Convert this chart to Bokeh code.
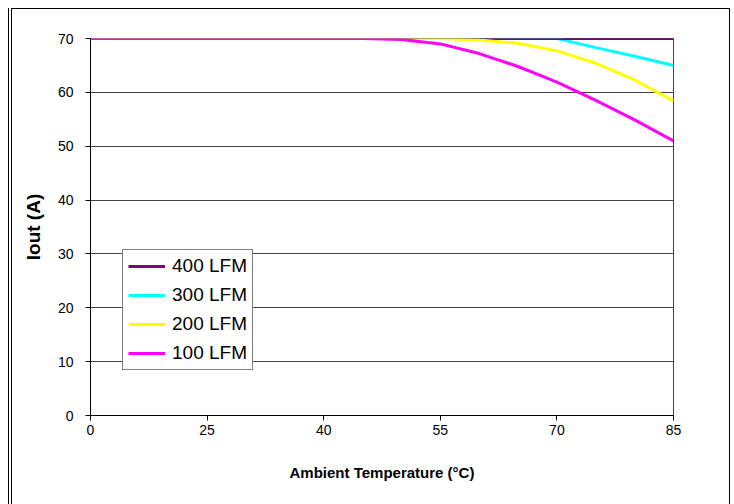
import numpy as np
from bokeh.plotting import figure
from bokeh.models import Range1d, FixedTicker, Legend, LegendItem
from bokeh.embed import file_html
from bokeh.resources import INLINE

# ---- data ----
cat_labels = ["0", "25", "40", "55", "70", "85"]
cat_temps = [0, 25, 40, 55, 70, 85]

temps_400 = [0, 25, 40, 55, 70, 85]
iout_400 = [70, 70, 70, 70, 70, 70]

temps_300 = [0, 25, 40, 55, 70, 75, 80, 85]
iout_300 = [70, 70, 70, 70, 70, 68.3, 66.7, 65.0]

temps_200 = [0, 25, 40, 55, 60, 65, 70, 75, 80, 85]
iout_200 = [70, 70, 70, 70, 69.7, 69.1, 67.7, 65.4, 62.3, 58.4]

temps_100 = [0, 25, 40, 45, 50, 55, 60, 65, 70, 75, 80, 85]
iout_100 = [70, 70, 70, 70, 69.8, 69.0, 67.2, 64.8, 61.9, 58.5, 54.9, 51.0]

series = [
    ("400 LFM", temps_400, iout_400, "#800080"),
    ("300 LFM", temps_300, iout_300, "#00FFFF"),
    ("200 LFM", temps_200, iout_200, "#FFFF00"),
    ("100 LFM", temps_100, iout_100, "#FF00FF"),
]
y_ticks = [0, 10, 20, 30, 40, 50, 60, 70]

FONT = "Liberation Sans"


def to_pos(t):
    # category axis: each labelled temperature is one equally spaced slot
    return np.interp(t, cat_temps, np.arange(len(cat_temps)))


p = figure(width=717, height=495, output_backend="svg", toolbar_location=None,
           x_range=Range1d(0, len(cat_temps) - 1), y_range=Range1d(0, 70),
           min_border_left=78, min_border_top=29, min_border_right=56,
           min_border_bottom=89,
           styles={"margin-left": "12px", "margin-top": "9px",
                   "box-shadow": "0 0 0 1px black, -2px 0 0 1px white, "
                                 "-3px 0 0 1px black"})
p.background_fill_color = "white"
p.border_fill_color = "white"
p.outline_line_color = "#444444"
p.outline_line_width = 1

# axes
p.xaxis.ticker = FixedTicker(ticks=list(range(len(cat_temps))))
p.xaxis.major_label_overrides = {i: lab for i, lab in enumerate(cat_labels)}
p.yaxis.ticker = FixedTicker(ticks=y_ticks)
for ax in (p.xaxis[0], p.yaxis[0]):
    ax.axis_line_color = "black"
    ax.major_tick_line_color = "black"
    ax.major_tick_out = 5
    ax.major_tick_in = 0
    ax.minor_tick_line_color = None
    ax.major_label_text_font = FONT
    ax.major_label_text_font_size = "14px"
    ax.major_label_text_color = "black"
    ax.axis_label_text_font = FONT
    ax.axis_label_text_font_style = "bold"
    ax.axis_label_text_color = "black"
p.xaxis.axis_label = "Ambient Temperature (°C)"
p.xaxis.axis_label_text_font_size = "15px"
p.xaxis.major_label_standoff = 4
p.xaxis.axis_label_standoff = 26
p.yaxis.axis_label = "Iout (A)"
p.yaxis.axis_label_text_font_size = "19px"
p.yaxis.major_label_standoff = 12
p.yaxis.axis_label_standoff = 11

p.xgrid.grid_line_color = None
p.ygrid.grid_line_color = "#444444"
p.ygrid.grid_line_width = 1

# draw order: 300, 400, 200, 100 (as in the original picture)
renderers = {}
for i in [1, 0, 2, 3]:
    name, t, v, c = series[i]
    renderers[name] = p.line(to_pos(t), v, line_color=c, line_width=3)

items = [LegendItem(label=name, renderers=[renderers[name]])
         for name, _, _, _ in series]

legend = Legend(items=items, location=(32, 45))
legend.border_line_color = "black"
legend.border_line_width = 1
legend.background_fill_color = "white"
legend.background_fill_alpha = 1
legend.label_text_font = FONT
legend.label_text_font_size = "19px"
legend.label_text_color = "black"
legend.glyph_width = 37
legend.glyph_height = 20
legend.label_height = 20
legend.label_standoff = 7
legend.spacing = 7
legend.padding = 5
legend.margin = 0
p.add_layout(legend, "center")

open("out.html", "w").write(file_html(p, INLINE))
